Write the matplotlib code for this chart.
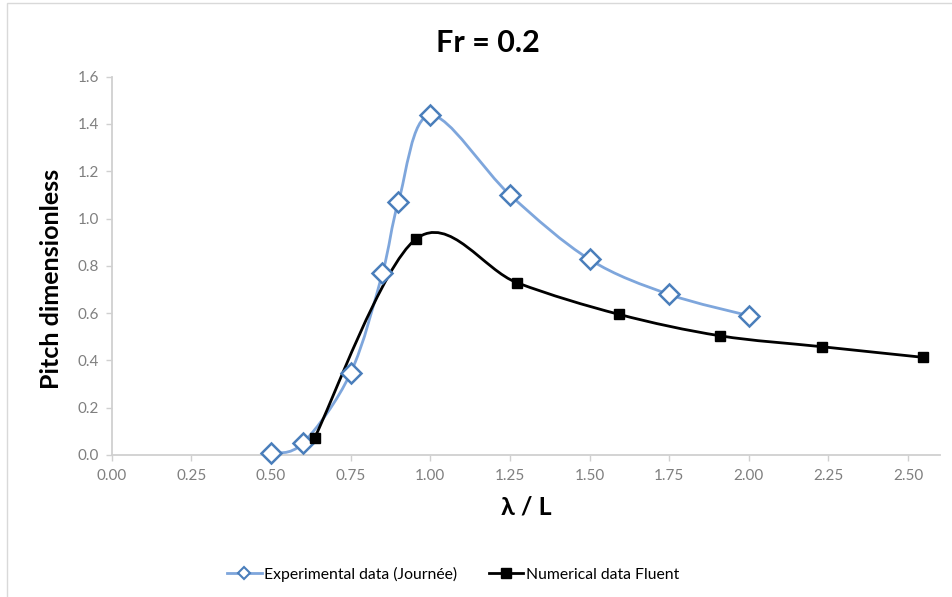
import numpy as np
import matplotlib
matplotlib.use("Agg")
import matplotlib.pyplot as plt
from matplotlib.path import Path
from matplotlib.patches import PathPatch, Rectangle
from matplotlib.lines import Line2D

plt.rcParams['font.family'] = ['Lato', 'DejaVu Sans']

# Data
exp_x = [0.5, 0.6, 0.75, 0.85, 0.9, 1.0, 1.25, 1.5, 1.75, 2.0]
exp_y = [0.007, 0.05, 0.347, 0.77, 1.07, 1.437, 1.10, 0.827, 0.679, 0.589]
num_x = [0.6366, 0.9549, 1.2732, 1.5915, 1.9099, 2.2282, 2.5465]
num_y = [0.072, 0.913, 0.728, 0.595, 0.504, 0.458, 0.413]
x_ticks = [0.00, 0.25, 0.50, 0.75, 1.00, 1.25, 1.50, 1.75, 2.00, 2.25, 2.50]
y_ticks = [0.0, 0.2, 0.4, 0.6, 0.8, 1.0, 1.2, 1.4, 1.6]

title = "Fr = 0.2"
xlabel = "λ / L"
ylabel = "Pitch dimensionless"
exp_label = "Experimental data (Journée)"
num_label = "Numerical data Fluent"

BLUE_LINE = '#7ea6dc'
BLUE_MARK = '#4a7ebb'
GRAY_AX = '#d0d0d0'
GRAY_TXT = '#7f7f7f'


def smooth_path(xs, ys):
    """Excel-style smoothed line (Catmull-Rom as cubic Bezier)."""
    P = np.column_stack([xs, ys]).astype(float)
    n = len(P)
    verts = [P[0]]
    codes = [Path.MOVETO]
    for i in range(n - 1):
        p0 = P[i - 1] if i > 0 else P[i]
        p1 = P[i]
        p2 = P[i + 1]
        p3 = P[i + 2] if i + 2 < n else P[i + 1]
        c1 = p1 + (p2 - p0) / 6.0
        c2 = p2 - (p3 - p1) / 6.0
        verts += [c1, c2, p2]
        codes += [Path.CURVE4] * 3
    return Path(np.array(verts), codes)


fig = plt.figure(figsize=(9.53, 5.97), dpi=100)
fig.patches.append(Rectangle((7 / 953, -0.1), 1.2, 1 - 3 / 597 + 0.1,
                             transform=fig.transFigure, fill=False,
                             edgecolor='#d9d9d9', lw=1.0))

ax = fig.add_axes([111.7 / 953, 1 - 455 / 597, (940 - 111.7) / 953, (455 - 76.6) / 597])
ax.set_xlim(0, 2.6)
ax.set_ylim(0, 1.6)

ax.add_patch(PathPatch(smooth_path(exp_x, exp_y), fill=False,
                       edgecolor=BLUE_LINE, lw=2.0, zorder=2))
ax.add_patch(PathPatch(smooth_path(num_x, num_y), fill=False,
                       edgecolor='black', lw=2.0, zorder=3))
ax.plot(exp_x, exp_y, linestyle='none', marker='D', markersize=10.5,
        markerfacecolor='white', markeredgecolor=BLUE_MARK, markeredgewidth=1.8,
        zorder=4, clip_on=False)
ax.plot(num_x, num_y, linestyle='none', marker='s', markersize=7,
        markerfacecolor='black', markeredgecolor='black', zorder=5, clip_on=False)

ax.set_xticks(x_ticks)
ax.set_xticklabels([f"{v:.2f}" for v in x_ticks])
ax.set_yticks(y_ticks)
ax.set_yticklabels([f"{v:.1f}" for v in y_ticks])
for s in ['top', 'right']:
    ax.spines[s].set_visible(False)
for s in ['left', 'bottom']:
    ax.spines[s].set_color(GRAY_AX)
    ax.spines[s].set_linewidth(1.3)
ax.tick_params(axis='both', direction='out', length=4, width=1, color=GRAY_AX,
               labelcolor=GRAY_TXT, labelsize=11)
ax.tick_params(axis='x', pad=6)
ax.tick_params(axis='y', pad=5)

ax.set_xlabel(xlabel, fontsize=18, fontweight='bold', labelpad=9)
ax.set_ylabel(ylabel, fontsize=18, fontweight='bold')
ax.yaxis.set_label_coords((63 - 111.7) / (940 - 111.7), 0.465)
fig.text(488 / 953, 1 - 43 / 597, title, fontsize=22, fontweight='bold',
         ha='center', va='center')

handles = [
    Line2D([], [], color=BLUE_LINE, lw=2.0, marker='D', markersize=6.5,
           markerfacecolor='white', markeredgecolor=BLUE_MARK, markeredgewidth=1.5),
    Line2D([], [], color='black', lw=2.0, marker='s', markersize=6.5,
           markerfacecolor='black'),
]
fig.legend(handles, [exp_label, num_label], loc='center',
           bbox_to_anchor=(453 / 953, 1 - 574 / 597), ncol=2, frameon=False,
           fontsize=11.3, handlelength=2.2, handletextpad=0.15, columnspacing=2.0)

fig.savefig('out.png', dpi=100)
